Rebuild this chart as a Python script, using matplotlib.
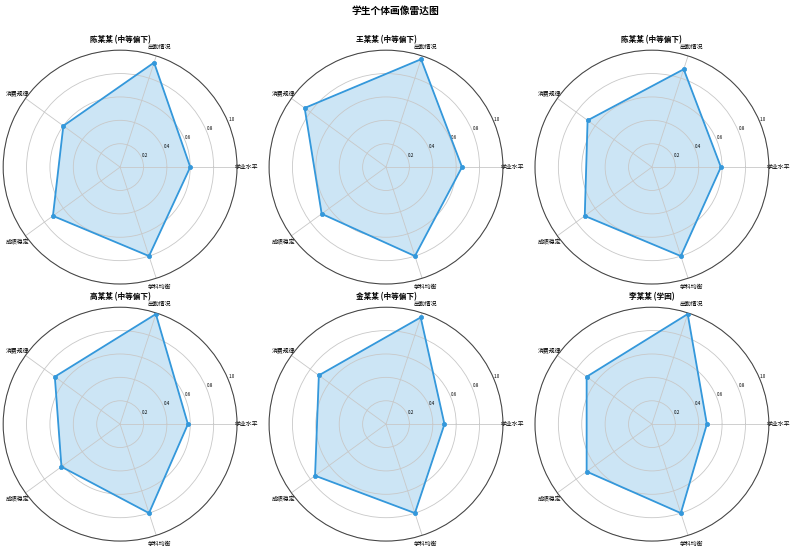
import numpy as np
import matplotlib.pyplot as plt

plt.rcParams['font.family'] = ['Noto Sans CJK SC', 'DejaVu Sans']
plt.rcParams['axes.unicode_minus'] = False

dimensions = ['学业水平', '出勤情况', '消费规律', '成绩稳定', '学科均衡']

students = ['陈某某 (中等偏下)', '王某某 (中等偏下)', '陈某某 (中等偏下)',
            '高某某 (中等偏下)', '金某某 (中等偏下)', '李某某 (学困)']

scores = [
    [0.60, 0.94, 0.60, 0.71, 0.80],
    [0.65, 0.97, 0.86, 0.68, 0.80],
    [0.59, 0.88, 0.68, 0.71, 0.80],
    [0.58, 0.99, 0.69, 0.62, 0.80],
    [0.50, 0.96, 0.71, 0.75, 0.80],
    [0.47, 0.99, 0.69, 0.69, 0.80],
]

color = '#3498db'

angles = np.linspace(0, 2 * np.pi, len(dimensions), endpoint=False)
angles_closed = np.concatenate([angles, angles[:1]])

fig, axes = plt.subplots(2, 3, figsize=(15.82, 11), dpi=50,
                         subplot_kw=dict(polar=True))
fig.subplots_adjust(left=0.004, right=0.972, top=0.909, bottom=0.016,
                    wspace=0.137, hspace=0.098)

for ax, name, vals in zip(axes.flat, students, scores):
    v = np.concatenate([vals, vals[:1]])
    ax.plot(angles_closed, v, color=color, linewidth=2.6)
    ax.scatter(angles, vals, color=color, s=38, zorder=3)
    ax.fill(angles_closed, v, color=color, alpha=0.25)
    ax.set_ylim(0, 1.0)
    ax.set_yticks([0.2, 0.4, 0.6, 0.8, 1.0])
    ax.set_yticklabels(['0.2', '0.4', '0.6', '0.8', '1.0'], fontsize=6.5)
    ax.set_xticks(angles)
    ax.set_xticklabels(dimensions, fontsize=8.5)
    ax.tick_params(axis='x', pad=3)
    ax.grid(color='#c8c8c8', linewidth=1.2)
    ax.spines['polar'].set_color('#444444')
    ax.spines['polar'].set_linewidth(1.5)
    ax.set_title(name, fontsize=11, fontweight='bold', pad=2)

fig.suptitle('学生个体画像雷达图', fontsize=14, fontweight='bold', y=0.99)

fig.savefig('out.png', dpi=50)
